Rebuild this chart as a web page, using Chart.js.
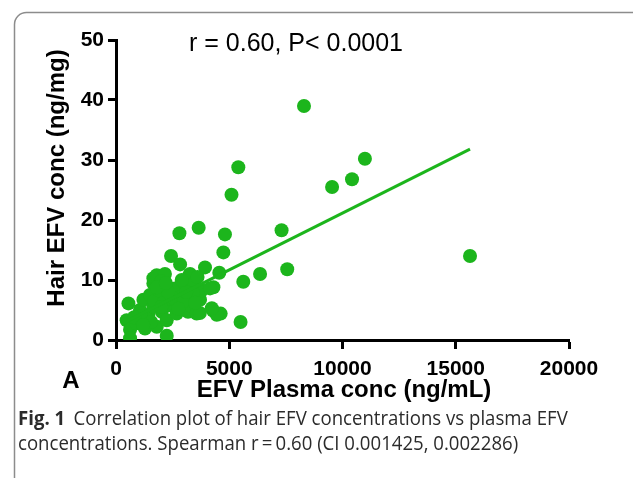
<!DOCTYPE html>
<html>
<head>
  <meta http-equiv="content-type" content="text/html; charset=utf-8"/>
  <script src="https://cdn.jsdelivr.net/npm/chart.js@4.4.0/dist/chart.umd.min.js"></script>
  <style>
    body { margin: 0; background: #fff; }
    #wrap { width: 633px; height: 478px; }
  </style>
</head>
<body>
<div id="wrap"><canvas id="chart" width="633" height="478"></canvas></div>

<script>
    // plasma EFV (ng/mL) vs hair EFV (ng/mg)
    const plasmaConc = [
        8300, 5400, 5100, 9540, 10420, 10990, 15630, 7310, 7560, 6360, 5620, 5500,
        4810, 4740, 3650, 2800, 2430, 2830, 3930, 4560, 4300, 4280, 4620, 4450,
        550, 470, 620, 620, 900, 1060, 1210, 1280, 1430, 1650, 1650, 1650, 1800, 1800,
        1940, 2020, 2160, 2240, 2240, 2380, 2600, 2680, 2900, 3050, 3180, 3240, 3270,
        3270, 3410, 3560, 3710, 3780, 4150, 4230, 3700, 1500, 1700, 1900, 2000, 2100,
        1350, 1100, 2500, 2300, 3000, 3400, 3600, 2750, 1550, 2000, 800, 1200, 1800,
        2200, 3100, 2900, 3500
    ];
    const hairConc = [
        39.0, 28.8, 24.2, 25.5, 26.8, 30.2, 14.0, 18.3, 11.8, 11.0, 9.7, 3.0,
        17.6, 14.6, 18.7, 17.8, 14.0, 12.6, 12.1, 11.2, 8.8, 4.9, 4.4, 4.2,
        6.1, 3.3, 1.7, 0.3, 2.8, 5.0, 6.7, 1.9, 4.2, 9.4, 5.6, 10.3, 10.8, 2.2,
        7.2, 4.7, 11.0, 0.7, 3.3, 5.8, 8.6, 4.4, 7.2, 9.2, 4.7, 10.8, 11.0,
        5.8, 9.4, 4.4, 6.7, 8.3, 8.6, 5.3, 4.5, 7.5, 6.5, 8.3, 9.8, 6.2,
        3.5, 4.0, 7.0, 8.0, 6.5, 7.8, 10.5, 5.2, 3.0, 5.5, 3.8, 2.5, 8.8,
        9.5, 8.0, 10.0, 6.2
    ];
    // fitted line end points
    const fitX = [470, 15630];
    const fitY = [3.1, 31.8];

    const xTicks = [0, 5000, 10000, 15000, 20000];
    const yTicks = [0, 10, 20, 30, 40, 50];

    const green = 'rgb(28,181,28)';
    const bold = 'bold 24px "Liberation Sans", Arial, sans-serif';

    Chart.defaults.font.family = '"Liberation Sans", Arial, sans-serif';
    Chart.defaults.color = '#000';

    const textPlugin = {
        id: 'texts',
        afterDraw(chart) {
            const ctx = chart.ctx;
            ctx.save();

            // rounded frame around the figure
            ctx.strokeStyle = '#8c8c8c';
            ctx.lineWidth = 1.5;
            ctx.beginPath();
            ctx.roundRect(14.5, 12.5, 700, 600, 12);
            ctx.stroke();

            ctx.fillStyle = '#000';
            ctx.textAlign = 'center';
            ctx.textBaseline = 'middle';

            ctx.font = '25px "Liberation Sans", Arial, sans-serif';
            ctx.fillText('r = 0.60, P< 0.0001', 296, 44);

            ctx.font = bold;
            ctx.fillText('EFV Plasma conc (ng/mL)', 344, 390);
            ctx.fillText('A', 71, 381);

            ctx.save();
            ctx.translate(57, 178);
            ctx.rotate(-Math.PI / 2);
            ctx.fillText('Hair EFV conc (ng/mg)', 0, 0);
            ctx.restore();

            // caption, squeezed a little to match the narrow journal font
            const cap = '"Open Sans", "Noto Sans", sans-serif';
            ctx.fillStyle = '#2b2b2b';
            ctx.textAlign = 'left';
            ctx.textBaseline = 'alphabetic';
            const sx = 0.93;
            ctx.save();
            ctx.scale(sx, 1);
            ctx.font = 'bold 20px ' + cap;
            ctx.fillText('Fig. 1', 18 / sx, 425);
            const w = ctx.measureText('Fig. 1').width;
            ctx.font = '20px ' + cap;
            ctx.fillText('Correlation plot of hair EFV concentrations vs plasma EFV', 18 / sx + w + 9, 425);
            ctx.fillText('concentrations. Spearman r\u2009=\u20090.60 (CI 0.001425, 0.002286)', 18 / sx, 450);
            ctx.restore();

            ctx.restore();
        }
    };

    new Chart(document.getElementById('chart'), {
        type: 'scatter',
        data: {
            datasets: [{
                type: 'line',
                data: fitX.map((x, i) => ({x: x, y: fitY[i]})),
                borderColor: green,
                borderWidth: 3,
                pointRadius: 0,
                fill: false
            }, {
                data: plasmaConc.map((x, i) => ({x: x, y: hairConc[i]})),
                backgroundColor: green,
                borderWidth: 0,
                pointRadius: 7
            }]
        },
        options: {
            responsive: false,
            animation: false,
            events: [],
            layout: {padding: {left: 0, right: 64, top: 40, bottom: 0}},
            plugins: {legend: {display: false}, tooltip: {enabled: false}},
            scales: {
                x: {
                    type: 'linear', min: 0, max: 20000,
                    afterBuildTicks: s => { s.ticks = xTicks.map(v => ({value: v})); },
                    afterFit: s => { s.height = 138; },
                    ticks: {font: {size: 21, weight: 'bold'}, color: '#000', padding: 8, maxRotation: 0,
                        callback: v => String(v)},
                    grid: {drawOnChartArea: false, drawTicks: true, tickLength: 9, tickWidth: 3, tickColor: '#000'},
                    border: {color: '#000', width: 3}
                },
                y: {
                    type: 'linear', min: 0, max: 50,
                    afterBuildTicks: s => { s.ticks = yTicks.map(v => ({value: v})); },
                    afterFit: s => { s.width = 116; },
                    ticks: {font: {size: 21, weight: 'bold'}, color: '#000', padding: 4,
                        callback: v => String(v)},
                    grid: {drawOnChartArea: false, drawTicks: true, tickLength: 8, tickWidth: 3, tickColor: '#000'},
                    border: {color: '#000', width: 3}
                }
            }
        },
        plugins: [textPlugin]
    });
</script>
</body>
</html>
